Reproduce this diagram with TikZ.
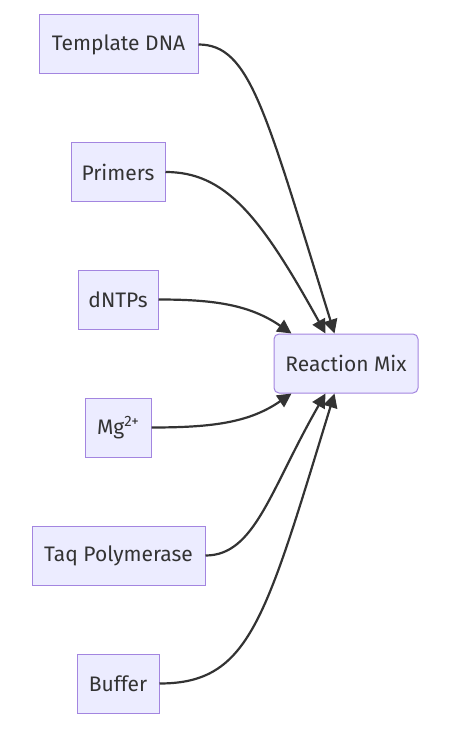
\documentclass[tikz,border=0pt]{standalone}
\usepackage{fontspec}
\setmainfont{Fira Sans}
\usetikzlibrary{arrows.meta,calc}
\definecolor{boxfill}{HTML}{ECECFF}
\definecolor{boxline}{HTML}{9370DB}
\definecolor{inkgray}{HTML}{333333}
\begin{document}
\begin{tikzpicture}[x=1pt,y=-1pt,
    ingredient/.style={draw=boxline!85,fill=boxfill,line width=1pt,
      minimum height=59pt,inner xsep=8pt,font=\fontsize{21}{25}\selectfont,text=inkgray},
    mixbox/.style={ingredient,rounded corners=5pt},
    feed/.style={draw=inkgray,line width=2.2pt,-{Triangle[length=14pt,width=14pt]}}]
      \useasboundingbox (0,0) rectangle (458,735);
      \node[ingredient,minimum width=159pt] (dna) at (118.5,44.5) {Template DNA};
      \node[ingredient,minimum width=94pt] (primers) at (118,172) {Primers};
      \node[ingredient,minimum width=80pt] (dntps) at (118,299.5) {dNTPs};
      \node[ingredient,minimum width=66pt] (mg) at (118,427.5) {Mg\raisebox{0.7ex}{\fontsize{15}{15}\selectfont 2+}};
      \node[ingredient,minimum width=173pt] (taq) at (118.5,555.5) {Taq Polymerase};
      \node[ingredient,minimum width=82pt] (buffer) at (118,683.5) {Buffer};
      \node[mixbox,minimum width=144pt] (mix) at (346,363.5) {Reaction Mix};
      \coordinate (t1) at ($(mix.north west)+(18,0)$);
      \coordinate (t2) at ($(mix.north west)+(52,0)$);
      \coordinate (t3) at ($(mix.north west)+(61,0)$);
      \coordinate (b1) at ($(mix.south west)+(18,0)$);
      \coordinate (b2) at ($(mix.south west)+(52,0)$);
      \coordinate (b3) at ($(mix.south west)+(61,0)$);
      \draw[feed] (dna.east) .. controls (250,44.5) and (265,110) .. (t3);
      \draw[feed] (primers.east) .. controls (225,172) and (260,215) .. (t2);
      \draw[feed] (dntps.east) .. controls (215,299.5) and (250,305) .. (t1);
      \draw[feed] (mg.east) .. controls (215,427.5) and (250,422) .. (b1);
      \draw[feed] (taq.east) .. controls (255,555.5) and (270,490) .. (b2);
      \draw[feed] (buffer.east) .. controls (250,683.5) and (265,620) .. (b3);
\end{tikzpicture}
\end{document}
